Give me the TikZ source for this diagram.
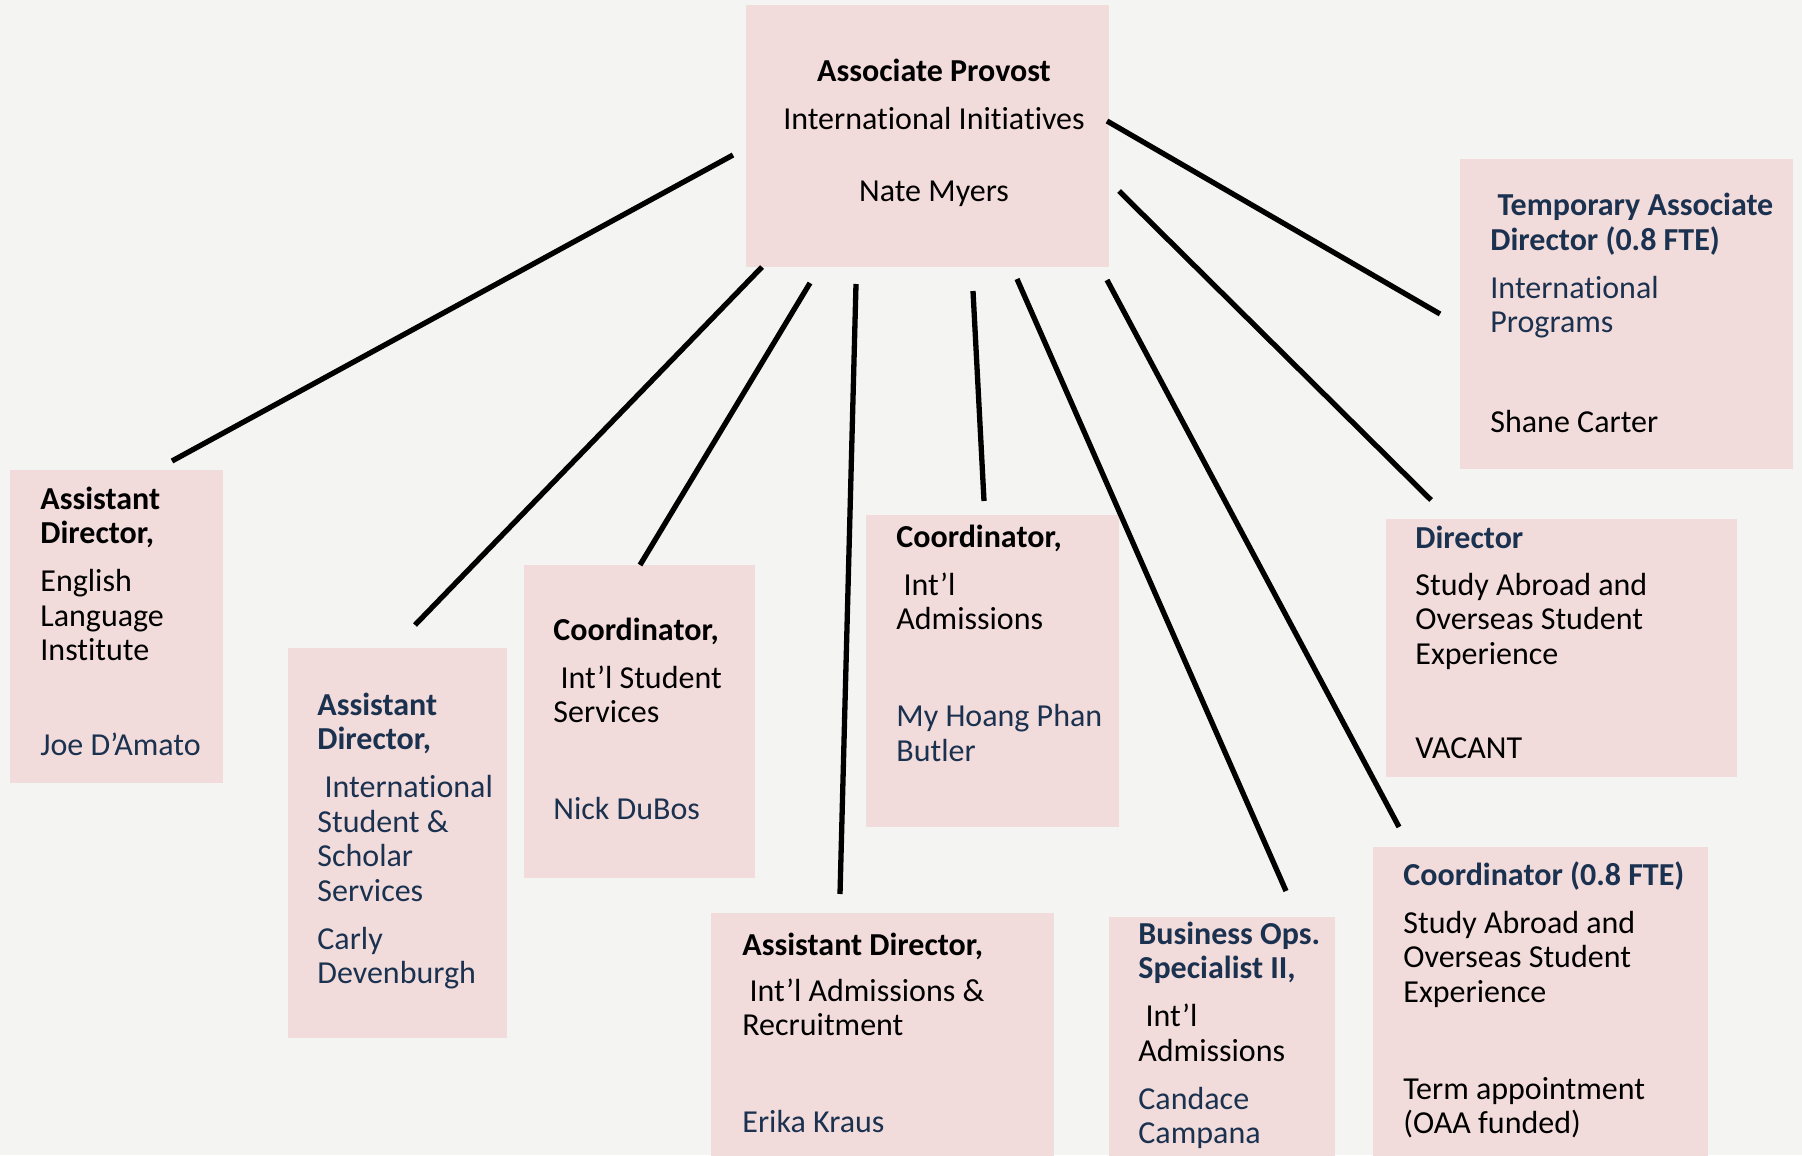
\documentclass[tikz,border=0pt]{standalone}
\usepackage{fontspec}
\setmainfont[Ligatures={NoCommon}]{Carlito}

\definecolor{paper}{HTML}{F4F4F3}
\definecolor{boxpink}{HTML}{F2DCDB}
\definecolor{navy}{HTML}{1B3150}

% left / centred stacks of lines; the stack's baseline is its first line
\newcommand\lrows[1]{\vtop{\baselineskip=17.25pt\lineskiplimit=-30pt\lineskip=0pt\halign{##\hfil\cr#1\crcr}}}
\newcommand\crows[1]{\vtop{\baselineskip=17.25pt\lineskiplimit=-30pt\lineskip=0pt\halign{\hfil##\hfil\cr#1\crcr}}}
\newcommand\gap[1]{\noalign{\vskip#1}}
\newcommand\ttl{\bfseries}
\newcommand\nvy[1]{\textcolor{navy}{#1}}

\begin{document}
\begin{tikzpicture}[x=0.5pt, y=-0.5pt,
  box/.style={fill=boxpink, draw=none, anchor=north west, inner sep=0pt},
  txt/.style={anchor=base west, inner sep=0pt, font=\fontsize{16pt}{17.25pt}\selectfont},
  ctxt/.style={anchor=base, inner sep=0pt, font=\fontsize{16pt}{17.25pt}\selectfont},
  link/.style={line width=2.65pt, black}]

\fill[paper] (0,0) rectangle (1802,1155);
\useasboundingbox (0,0) rectangle (1802,1155);

% boxes
\node[box, minimum width=181.5pt, minimum height=131pt] (prov) at (746,5) {};
\node[box, minimum width=166.5pt, minimum height=155pt] (temp) at (1460,159) {};
\node[box, minimum width=106.5pt, minimum height=156.5pt] (eli) at (10,470) {};
\node[box, minimum width=109.5pt, minimum height=195pt] (isss) at (288,648) {};
\node[box, minimum width=115.5pt, minimum height=156.5pt] (iss) at (524,565) {};
\node[box, minimum width=126.5pt, minimum height=156pt] (adm) at (866,515) {};
\node[box, minimum width=171.5pt, minimum height=126pt] (rec) at (711,913) {};
\node[box, minimum width=113pt, minimum height=124pt] (bus) at (1109,917) {};
\node[box, minimum width=175.5pt, minimum height=129pt] (dir) at (1386,519) {};
\node[box, minimum width=167.5pt, minimum height=158pt] (sao) at (1373,847) {};

% box texts
\begin{scope}[shift={(0,2)}]
\node[ctxt] (provT) at (934,80) {\crows{\ttl Associate Provost\cr\gap{6.75pt}
  International Initiatives\cr\gap{18.75pt}
  Nate Myers\cr}};

\node[txt] (tempT) at (1490,214) {\lrows{\ttl\nvy{\ Temporary Associate}\cr
  \ttl\nvy{Director (0.8 FTE)}\cr\gap{6.75pt}
  \nvy{International}\cr \nvy{Programs}\cr\gap{32.25pt}
  Shane Carter\cr}};

\node[txt] (eliT) at (40,507) {\lrows{\ttl Assistant\cr \ttl Director,\cr\gap{6.75pt}
  English\cr Language\cr Institute\cr\gap{30.25pt}
  \nvy{Joe D’Amato}\cr}};

\node[txt] (isssT) at (317,713) {\lrows{\ttl\nvy{Assistant}\cr \ttl\nvy{Director,}\cr\gap{6.75pt}
  \nvy{\ International}\cr \nvy{Student \&}\cr \nvy{Scholar}\cr \nvy{Services}\cr\gap{6.75pt}
  \nvy{Carly}\cr \nvy{Devenburgh}\cr}};

\node[txt] (issT) at (553,638) {\lrows{\ttl Coordinator,\cr\gap{6.75pt}
  \ Int’l Student\cr Services\cr\gap{31.25pt}
  \nvy{Nick DuBos}\cr}};

\node[txt] (admT) at (896,545) {\lrows{\ttl Coordinator,\cr\gap{6.75pt}
  \ Int’l\cr Admissions\cr\gap{31.25pt}
  \nvy{My Hoang Phan}\cr \nvy{Butler}\cr}};

\node[txt] (recT) at (742,953) {\lrows{\ttl Assistant Director,\cr\gap{5.75pt}
  \ Int’l Admissions \&\cr Recruitment\cr\gap{31.25pt}
  \nvy{Erika Kraus}\cr}};

\node[txt] (busT) at (1138,942) {\lrows{\ttl\nvy{Business Ops.}\cr \ttl\nvy{Specialist II,}\cr\gap{6.75pt}
  \ Int’l\cr Admissions\cr\gap{6.75pt}
  \nvy{Candace}\cr \nvy{Campana}\cr}};

\node[txt] (dirT) at (1415,546) {\lrows{\ttl\nvy{Director}\cr\gap{6.25pt}
  Study Abroad and\cr Overseas Student\cr Experience\cr\gap{29.75pt}
  VACANT\cr}};

\node[txt] (saoT) at (1403,883) {\lrows{\ttl\nvy{Coordinator (0.8 FTE)}\cr\gap{6.75pt}
  Study Abroad and\cr Overseas Student\cr Experience\cr\gap{31.25pt}
  Term appointment\cr (OAA funded)\cr}};
\end{scope}

% connector end points
\coordinate (p1) at (733,155);  \coordinate (c1) at (172,461);
\coordinate (p2) at (762,267);  \coordinate (c2) at (415,625);
\coordinate (p3) at (810,283);  \coordinate (c3) at (640,565);
\coordinate (p4) at (856,284);  \coordinate (c4) at (840,894);
\coordinate (p5) at (973,291);  \coordinate (c5) at (984,501);
\coordinate (p6) at (1017,279); \coordinate (c6) at (1286,891);
\coordinate (p7) at (1107,280); \coordinate (c7) at (1399,827);
\coordinate (p8) at (1119,191); \coordinate (c8) at (1431,500);
\coordinate (p9) at (1107,121); \coordinate (c9) at (1440,314);

% reporting lines
\foreach \i in {1,...,9} \draw[link] (p\i) -- (c\i);

\end{tikzpicture}
\end{document}
